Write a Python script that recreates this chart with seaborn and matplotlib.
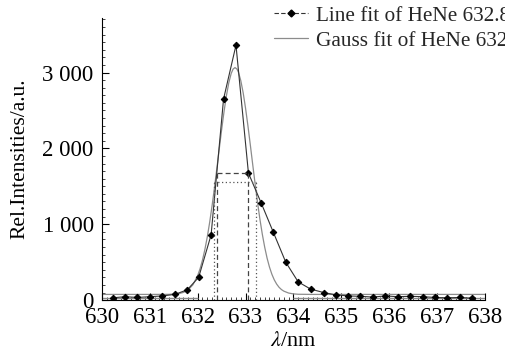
import numpy as np
import pandas as pd
import matplotlib
matplotlib.use("Agg")
import matplotlib.pyplot as plt
from matplotlib.lines import Line2D
from matplotlib.ticker import MultipleLocator
import seaborn as sns

line_x = [630.22, 630.48, 630.74, 631.00, 631.26, 631.52, 631.78, 632.02, 632.28, 632.54,
          632.80, 633.06, 633.33, 633.58, 633.84, 634.10, 634.36, 634.63, 634.88, 635.15,
          635.40, 635.66, 635.92, 636.18, 636.44, 636.70, 636.96, 637.22, 637.48, 637.74]
line_y = [30, 45, 35, 45, 55, 75, 135, 300, 860, 2650,
          3360, 1675, 1275, 895, 500, 240, 145, 100, 70, 55,
          50, 40, 55, 45, 50, 45, 35, 30, 35, 25]

# gauss fit curve
gauss_x = [630.0, 631.0, 631.4, 631.6, 631.7, 631.8, 631.9,
           632.0, 632.05, 632.1, 632.15, 632.2, 632.25, 632.3, 632.35, 632.4, 632.45,
           632.5, 632.55, 632.6, 632.65, 632.7, 632.74, 632.78, 632.82, 632.85, 632.9, 632.95,
           633.0, 633.05, 633.1, 633.15, 633.2, 633.25, 633.3, 633.35, 633.4, 633.45,
           633.5, 633.55, 633.6, 633.65, 633.7, 633.75, 633.8,
           633.9, 634.0, 634.1, 634.4, 638.0]
gauss_y = [75, 75, 76, 85, 101, 134, 202,
           325, 415, 528, 667, 832, 1025, 1243, 1481, 1734, 1992,
           2246, 2484, 2694, 2866, 2988, 3046, 3065, 3046, 3006, 2894, 2733,
           2529, 2295, 2044, 1785, 1530, 1289, 1066, 869, 698, 553,
           435, 341, 267, 211, 169, 139, 118,
           93, 82, 77, 75, 75]

# baseline strip pieces
strip_y = 28
strip_start = [630.0, 634.0]
strip_end = [632.0, 638.0]

# FWHM markers
line_half = 1676
line_edges = [632.40, 633.06]
gauss_half = 1553
gauss_edges = [632.35, 633.22]

labels = ["Line fit of HeNe 632.8 nm", "Gauss fit of HeNe 632.8 nm"]

sns.set_theme(style="ticks")
plt.rcParams["font.family"] = ["Liberation Serif", "DejaVu Serif"]
plt.rcParams["mathtext.fontset"] = "stix"

fig = plt.figure(figsize=(5.05, 3.51), dpi=100)
ax = fig.add_axes([0.202, 0.145, 0.758, 0.804])

line_df = pd.DataFrame({"wl": line_x, "I": line_y})
gauss_df = pd.DataFrame({"wl": gauss_x, "I": gauss_y})

ax.hlines([strip_y] * len(strip_start), strip_start, strip_end, color="#8a8a8a", lw=1.0)

sns.lineplot(data=gauss_df, x="wl", y="I", ax=ax, color="#8c8c8c", lw=0.9)
sns.lineplot(data=line_df, x="wl", y="I", ax=ax, color="#333333", lw=0.8,
             marker="D", markersize=3.3, markeredgecolor="black",
             markerfacecolor="black")

ax.vlines(line_edges, 0, line_half, color="#444444", lw=0.9, ls=(0, (4, 2.5)))
ax.hlines(line_half, line_edges[0], line_edges[1], color="#444444", lw=0.9,
          ls=(0, (4, 2.5)))
ax.vlines(gauss_edges, 0, gauss_half, color="#555555", lw=0.9, ls=(0, (1, 2)))
ax.hlines(gauss_half, gauss_edges[0], gauss_edges[1], color="#555555", lw=0.9,
          ls=(0, (1, 2)))

ax.set_xlim(630, 638)
ax.set_ylim(0, 3720)
ax.set_xticks(range(630, 639))
ax.set_xticklabels([str(v) for v in range(630, 639)])
ax.set_yticks([0, 1000, 2000, 3000])
ax.set_yticklabels(["0", "1 000", "2 000", "3 000"])
ax.xaxis.set_minor_locator(MultipleLocator(0.1))
ax.yaxis.set_minor_locator(MultipleLocator(100))
ax.tick_params(which="major", direction="in", length=5, width=0.8,
               labelsize=16.5, colors="black")
ax.tick_params(which="minor", direction="in", length=2.5, width=0.6)
ax.tick_params(axis="x", pad=5)
ax.tick_params(axis="y", pad=6)
for s in ["top", "right"]:
    ax.spines[s].set_visible(False)
for s in ["left", "bottom"]:
    ax.spines[s].set_color("black")
    ax.spines[s].set_linewidth(0.8)

ax.set_xlabel("$\\lambda$/nm", fontsize=16, labelpad=3, color="black")
ax.set_ylabel("Rel.Intensities/a.u.", fontsize=15.5, labelpad=9, color="black")

handles = [
    Line2D([], [], color="#333333", lw=0.8, ls=(0, (4, 2)), marker="D",
           markersize=3.5, markerfacecolor="black", markeredgecolor="black"),
    Line2D([], [], color="#8c8c8c", lw=0.9),
]
fig.legend(handles, labels, loc="upper left", bbox_to_anchor=(272 / 505, 0.99),
           frameon=False, fontsize=15.3, handlelength=1.6, handletextpad=0.35,
           labelspacing=0.25, borderpad=0.1, borderaxespad=0)

fig.savefig("out.png", dpi=100)
